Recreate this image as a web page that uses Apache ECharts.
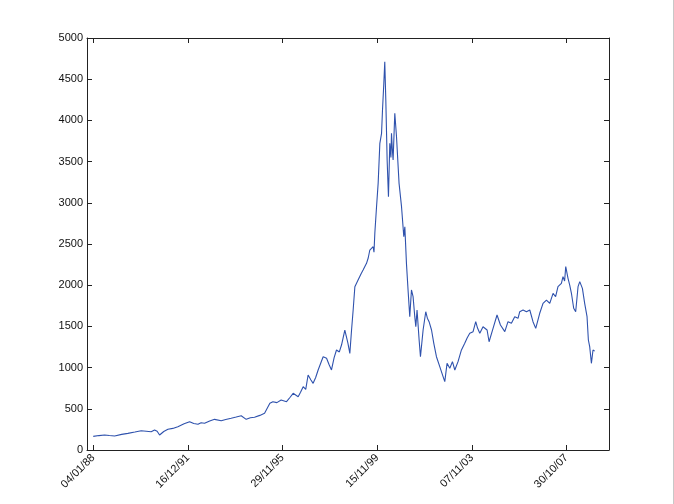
<!DOCTYPE html>
<html>
<head>
<meta charset="utf-8">
<script src="https://cdn.jsdelivr.net/npm/echarts@6/dist/echarts.min.js"></script>
<style>html,body{margin:0;padding:0;background:#fff}#c{width:674px;height:504px}</style>
</head>
<body>
<div id="c"></div>
<script>
// trading-day index since 04/01/88
const days = [0,60,120,170,226,300,366,440,507,560,612,648,675,701,745,789,840,894,960,1018,1062,1106,1140,1176,1230,1282,1352,1400,1457,1510,1563,1616,1660,1704,1760,1810,
1866,1898,1940,1985,2042,2080,2112,2165,2190,2218,2245,2270,2300,2323,2350,2376,2429,2465,2490,2517,2545,2570,2600,2623,2658,2690,2711,2729,2746,2764,2798,
2830,2851,2887,2905,2922,2957,2966,2975,2993,3010,3028,3046,3056,3070,3080,3091,3105,3119,3133,3145,3151,3160,3168,3180,3186,3204,
3231,3257,3281,3292,3309,3326,3344,3362,3379,3397,3408,3421,3443,3457,3485,3513,3530,3548,3574,3598,3626,
3661,3696,3714,3738,3767,3795,3820,3854,3890,3925,3950,3978,4013,4041,4060,4084,4118,4161,4182,4224,4266,4302,
4348,4382,4418,4453,4488,4506,4541,4577,4612,4646,4675,4717,4752,4788,4823,4858,4885,4910,4946,4963,4980,4992,
5016,5034,5052,5076,5097,5122,5140,5168,5192,5217,5231,5245,5263,5280,5298];
const values = [165,175,182,176,170,190,202,218,234,228,222,243,228,182,225,251,262,283,318,344,322,312,330,324,352,372,356,370,385,400,416,372,392,397,420,445,
567,586,575,607,586,640,688,647,700,768,735,910,850,809,880,971,1132,1113,1040,971,1120,1214,1190,1274,1456,1300,1173,1456,1700,1982,2063,
2140,2184,2265,2330,2427,2467,2400,2630,2953,3236,3722,3843,4126,4450,4712,4248,3519,3074,3722,3550,3843,3650,3519,3900,4086,3802,
3236,2953,2589,2710,2265,1942,1618,1942,1861,1618,1497,1699,1335,1132,1456,1678,1600,1557,1456,1295,1132,
1011,890,829,1052,992,1072,971,1072,1214,1295,1360,1416,1436,1557,1480,1416,1496,1456,1314,1477,1638,1517,
1436,1557,1538,1618,1598,1678,1699,1678,1699,1557,1476,1659,1780,1820,1780,1901,1860,1982,2023,2103,2050,2225,
2084,2002,1902,1720,1678,1982,2043,1962,1780,1618,1335,1254,1052,1214,1200];
const tickDays = [0,1000,2000,3000,4000,5000];
const tickLabels = ['04/01/88','16/12/91','29/11/95','15/11/99','07/11/03','30/10/07'];

const data = days.map((d,i)=>[d, values[i]]);
const xMin = -66, xMax = 5449;
const axisLine = {show:true, onZero:false, lineStyle:{color:'#222', width:1}};
const font = 'Liberation Sans, Arial, sans-serif';
const chart = echarts.init(document.getElementById('c'), null, {renderer:'canvas'});
chart.setOption({
  backgroundColor:'#fff',
  animation:false,
  grid:{left:87, right:65, top:38, bottom:54, containLabel:false},
  xAxis:[{
    type:'value', min:xMin, max:xMax, position:'bottom',
    axisLine:axisLine,
    splitLine:{show:false},
    axisTick:{show:true, inside:true, length:5, customValues:tickDays, lineStyle:{color:'#222'}},
    axisLabel:{show:true, rotate:45, margin:6, fontSize:11, color:'#111', fontFamily:font,
      customValues:tickDays,
      formatter:(v)=>{const i=tickDays.indexOf(v); return i>=0?tickLabels[i]:'';}}
  },{
    type:'value', min:xMin, max:xMax, position:'top',
    axisLine:axisLine, splitLine:{show:false},
    axisTick:{show:true, inside:true, length:5, customValues:tickDays, lineStyle:{color:'#222'}},
    axisLabel:{show:false}
  }],
  yAxis:[{
    type:'value', min:0, max:5000, interval:500, position:'left',
    axisLine:axisLine, splitLine:{show:false},
    axisTick:{show:true, inside:true, length:5, lineStyle:{color:'#222'}},
    axisLabel:{show:true, margin:4, fontSize:11, color:'#111', fontFamily:font,
      formatter:(v)=>String(v)}
  },{
    type:'value', min:0, max:5000, interval:500, position:'right',
    axisLine:axisLine, splitLine:{show:false},
    axisTick:{show:true, inside:true, length:5, lineStyle:{color:'#222'}},
    axisLabel:{show:false}
  }],
  graphic:[{type:'rect', shape:{x:673, y:0, width:1, height:504}, style:{fill:'#c8c8c8'}}],
  series:[{
    type:'line', data:data, xAxisIndex:0, yAxisIndex:0,
    showSymbol:false, symbol:'none',
    lineStyle:{color:'#2f52ad', width:1.1},
    clip:true
  }]
});
</script>
</body>
</html>
